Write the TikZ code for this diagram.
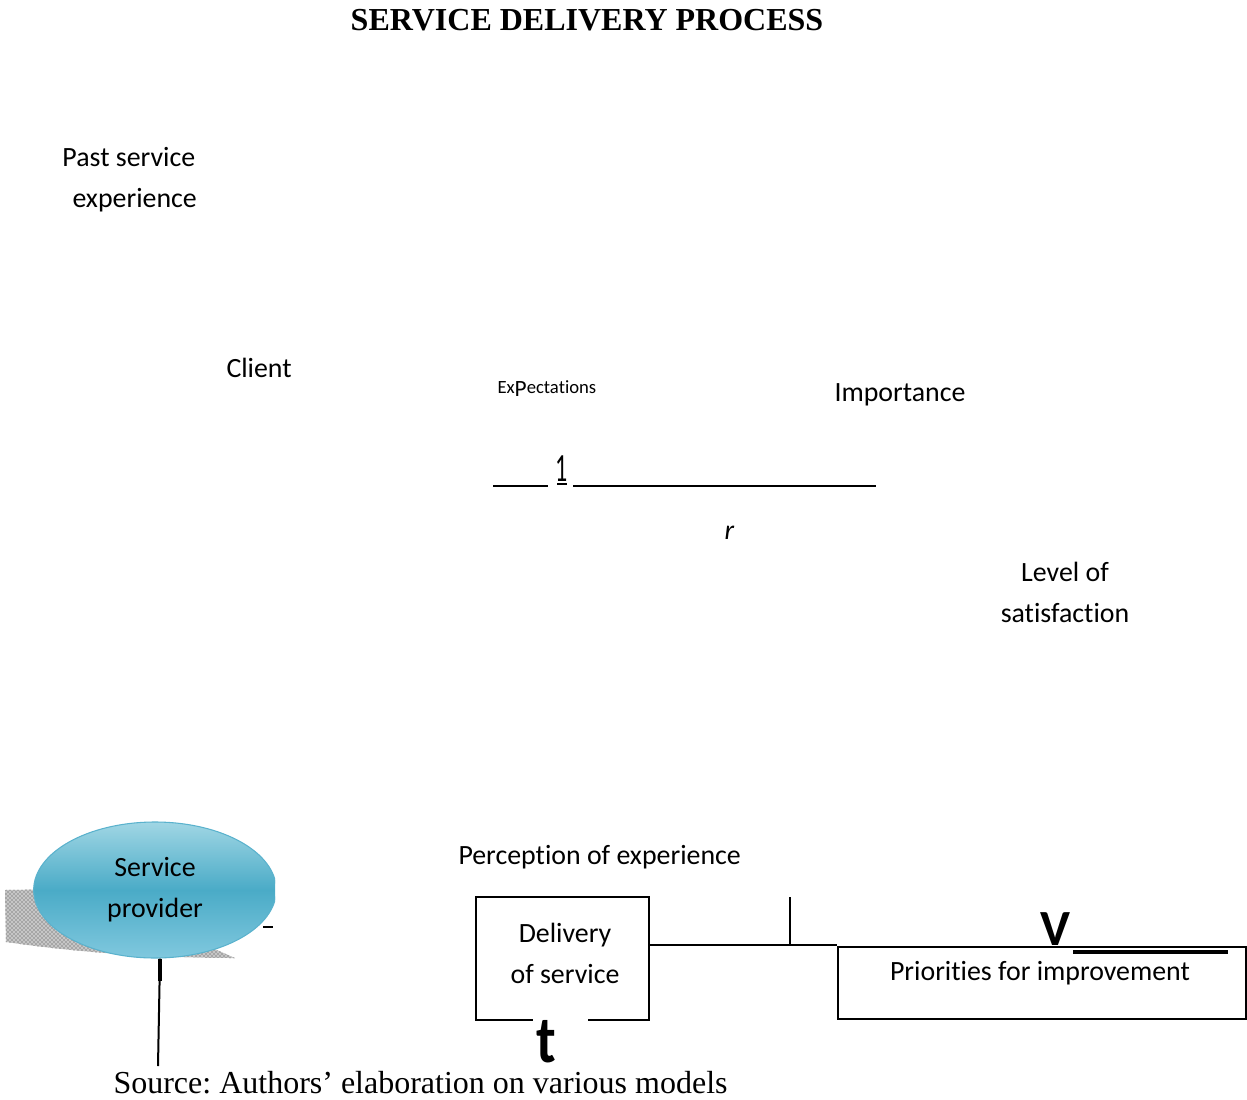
\documentclass[tikz,border=0pt]{standalone}
\usepackage{fontspec}
\setmainfont{Liberation Serif}
\newfontfamily\calibri[Ligatures=NoCommon]{Carlito}
\usetikzlibrary{shapes.geometric,calc,patterns}
\frenchspacing

\tikzset{every picture/.style={line width=0.75pt}}
\tikzset{
  txt/.style={inner sep=0pt, font=\calibri\fontsize{20.9}{30.75}\selectfont},
  twoline/.style={txt, align=center},
  rule/.style={line width=1.5pt},
  thinrule/.style={line width=1.1pt},
}
\definecolor{provtop}{RGB}{160,214,228}
\definecolor{provmid}{RGB}{74,171,199}
\definecolor{provbot}{RGB}{128,200,222}
\definecolor{provedge}{RGB}{90,178,205}

\begin{document}
\begin{tikzpicture}[x=0.75pt,y=0.75pt,yscale=-1,xscale=1]
\useasboundingbox (0,0) rectangle (1247,1100);

% Title
\node (title) [anchor=base, inner sep=0pt, font=\bfseries\fontsize{24}{28}\selectfont] at (587,30) {SERVICE DELIVERY PROCESS};

% Client side
\node (past) [txt, anchor=base west] at (62,166) {Past service};
\node (pastb) [txt, anchor=base west] at (72,207) {experience};
\node (client) [txt, anchor=base west] at (226,377) {Client};
\node (expect) [inner sep=0pt, anchor=base west, font=\calibri\fontsize{14}{16}\selectfont] at (497,393) {Ex{\fontsize{17.5}{18}\selectfont\raisebox{-2.5pt}{P}}ectations};
\node (importance) [txt, anchor=base west] at (834,401) {Importance};

% Rule with the digit
\node (one) [inner sep=0pt, anchor=base, xscale=0.6, font=\calibri\fontsize{30}{32}\selectfont] at (562,481) {1};
\draw [line width=2.2pt] ($(one.base)+(-5,3)$) -- ($(one.base)+(5,3)$);
\draw [thinrule] ($(one.base)+(-69,5)$) -- ($(one.base)+(-14,5)$);
\draw [thinrule] ($(one.base)+(11,5)$) -- ($(one.base)+(314,5)$);
\node (r) [txt, anchor=base west, font=\calibri\itshape\fontsize{20.9}{24}\selectfont] at (724,539) {r};

\node (level) [twoline] at (1065,592) {Level of\\satisfaction};

% Service provider
\fill [gray!45] (5,890) -- (80,889) -- (235,958) .. controls (140,958) and (60,950) .. (6,942) -- cycle;
\fill [pattern=crosshatch dots, pattern color=black!75] (5,890) -- (80,889) -- (235,958) .. controls (140,958) and (60,950) .. (6,942) -- cycle;
\begin{scope}
  \clip (0,800) rectangle (275,975);
  \node (provider) [ellipse, draw=provedge, line width=0.8pt, top color=provtop, bottom color=provbot, middle color=provmid, minimum width=182pt, minimum height=102pt, inner sep=0pt, twoline] at (155,890) {Service\\provider};
\end{scope}
\draw [line width=2pt] (263,927) -- (273,927);
\coordinate (stem) at (158,1066);
\draw [rule] ($(provider.south)+(5,0)$) -- (stem);
\draw [line width=2.6pt] ($(provider.south)+(5,0)$) -- ($(provider.south)+(5,22)$);

% Delivery of service
\node (perception) [txt, anchor=base west] at (458,864) {Perception of experience};
\node (delivery) [minimum width=129pt, minimum height=91.5pt, inner sep=0pt] at (562,958) {};
\draw [rule] ($(delivery.south west)+(57,0)$) -- (delivery.south west) -- (delivery.north west) -- (delivery.north east) -- (delivery.south east) -- ($(delivery.south east)+(-61,0)$);
\node (deltext) [twoline] at (565,953) {Delivery\\of service};
\node (tee) [inner sep=0pt, anchor=base, xscale=0.85, font=\calibri\bfseries\fontsize{50}{52}\selectfont] at (546,1062) {t};

% Priorities for improvement
\node (priorities) [draw, rule, minimum width=306pt, minimum height=54pt, inner sep=0pt] at (1042,982.5) {};
\node (prtext) [txt, anchor=base] at (1040,980) {Priorities for improvement};
\coordinate (linkstart) at ($(delivery.north east)+(0,48)$);
\draw [rule] (linkstart) -- (linkstart -| priorities.west);
\coordinate (tick) at (790,897);
\draw [rule] (tick) -- (tick |- linkstart);
\node (vee) [inner sep=0pt, anchor=base, font=\calibri\bfseries\fontsize{38}{40}\selectfont] at (1055,945) {V};
\draw [line width=3pt] (1073,952) -- (1228,952);

% Source
\node (source) [anchor=base west, inner sep=0pt, font=\fontsize{24}{28}\selectfont] at (113,1093) {Source: Authors’ elaboration on various models};
\end{tikzpicture}
\end{document}
